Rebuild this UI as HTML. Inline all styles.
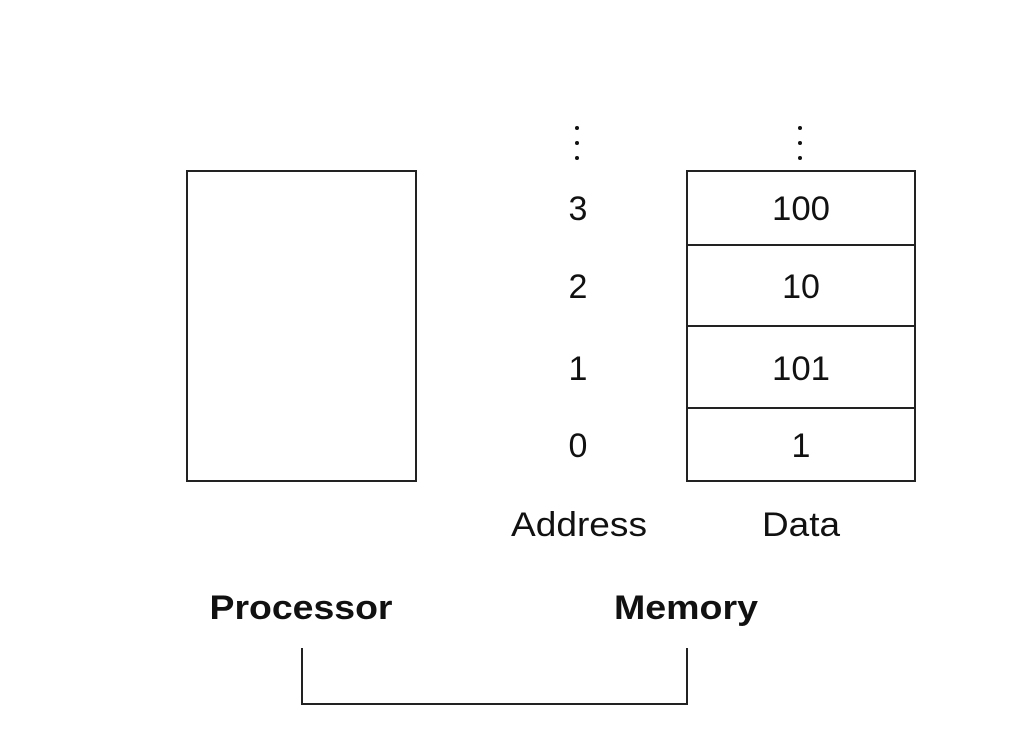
<!DOCTYPE html>
<html><head><style>
html,body{margin:0;padding:0;background:#fff;}
</style></head><body>
<svg width="1034" height="736" xmlns="http://www.w3.org/2000/svg" style="display:block">
<g fill="none" stroke="#222" stroke-width="2">
<rect x="187" y="171" width="229" height="310"/>
<rect x="687" y="171" width="228" height="310"/>
<line x1="687" y1="245" x2="915" y2="245"/>
<line x1="687" y1="326" x2="915" y2="326"/>
<line x1="687" y1="408" x2="915" y2="408"/>
<polyline points="302,648 302,704 687,704 687,648"/>
</g>
<g fill="#111">
<circle cx="577" cy="128" r="2"/><circle cx="577" cy="143" r="2"/><circle cx="577" cy="158" r="2"/>
<circle cx="800" cy="128" r="2"/><circle cx="800" cy="143" r="2"/><circle cx="800" cy="158" r="2"/>
</g>
<g font-family="Liberation Sans, sans-serif" font-size="34" fill="#111" text-anchor="middle">
<text x="578" y="220">3</text>
<text x="578" y="298">2</text>
<text x="578" y="380">1</text>
<text x="578" y="457">0</text>
<text x="801" y="220" textLength="58" lengthAdjust="spacingAndGlyphs">100</text>
<text x="801" y="298">10</text>
<text x="801" y="380" textLength="58" lengthAdjust="spacingAndGlyphs">101</text>
<text x="801" y="457">1</text>
<text x="579" y="536" textLength="136" lengthAdjust="spacingAndGlyphs">Address</text>
<text x="801" y="536" textLength="78" lengthAdjust="spacingAndGlyphs">Data</text>
<text x="301" y="619" font-weight="bold" textLength="183" lengthAdjust="spacingAndGlyphs">Processor</text>
<text x="686" y="619" font-weight="bold" textLength="144" lengthAdjust="spacingAndGlyphs">Memory</text>
</g>
</svg>
</body></html>
